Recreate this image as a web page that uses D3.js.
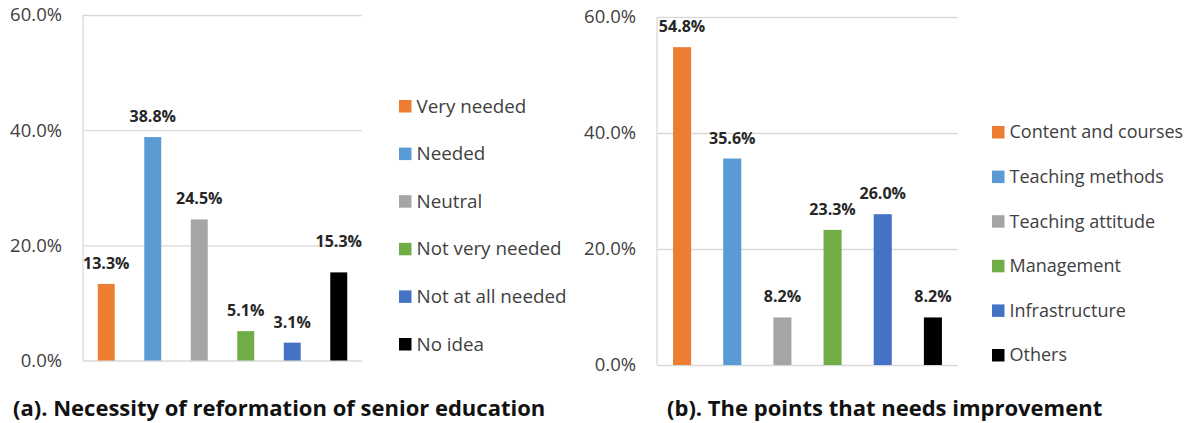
<!DOCTYPE html>
<html><head><meta charset="utf-8">
<script src="https://cdn.jsdelivr.net/npm/d3@7"></script>
<style>
body{margin:0;background:#fff}
svg{display:block;background:#fff}
text{font-family:"Open Sans",sans-serif}
</style>
</head><body>
<svg id="chart" width="1187" height="423"></svg>
<script>
// Survey results, percent of respondents
const necessityCategories = ["Very needed", "Needed", "Neutral", "Not very needed", "Not at all needed", "No idea"];
const necessityValues = [13.3, 38.8, 24.5, 5.1, 3.1, 15.3];

const improvementCategories = ["Content and courses", "Teaching methods", "Teaching attitude", "Management", "Infrastructure", "Others"];
const improvementValues = [54.8, 35.6, 8.2, 23.3, 26.0, 8.2];

const yTicks = [0, 20, 40, 60];
const barColors = ["#ED7D31", "#5B9BD5", "#A5A5A5", "#70AD47", "#4472C4", "#000000"];
const titleA = "(a). Necessity of reformation of senior education";
const titleB = "(b). The points that needs improvement";

const svg = d3.select("#chart");
const fmt = d => d.toFixed(1) + "%";

function drawPanel(cfg) {
  const g = svg.append("g");
  const y = d3.scaleLinear().domain([0, 60]).range([cfg.plot.bottom, cfg.plot.top]);
  const x = d3.scaleBand().domain(cfg.categories)
    .range([cfg.plot.left, cfg.plot.right])
    .paddingInner(cfg.gap).paddingOuter(cfg.gap / 2);

  // horizontal gridlines
  const grid = g.append("g")
    .attr("transform", `translate(${cfg.plot.left},0)`)
    .call(d3.axisLeft(y).tickValues(yTicks).tickSize(-(cfg.plot.right - cfg.plot.left)).tickFormat(""));
  grid.select(".domain").remove();
  grid.selectAll(".tick line").attr("stroke", "#d9d9d9").attr("stroke-width", 1.3);

  // tick labels
  const axis = g.append("g")
    .attr("transform", `translate(${cfg.plot.left},0)`)
    .call(d3.axisLeft(y).tickValues(yTicks).tickSize(0).tickPadding(21).tickFormat(fmt));
  axis.select(".domain").remove();
  axis.selectAll("text").attr("font-size", 18.5).attr("fill", "#404040")
    .style("font-family", '"Open Sans",sans-serif');

  // vertical axis line
  g.append("line")
    .attr("x1", cfg.plot.left).attr("x2", cfg.plot.left)
    .attr("y1", y(60)).attr("y2", y(0))
    .attr("stroke", "#d9d9d9").attr("stroke-width", 1.3);

  // bars
  g.selectAll("rect.bar").data(cfg.values).join("rect")
    .attr("class", "bar")
    .attr("x", (d, i) => x(cfg.categories[i]))
    .attr("width", x.bandwidth())
    .attr("y", d => y(d))
    .attr("height", d => y(0) - y(d))
    .attr("fill", (d, i) => barColors[i]);

  // value labels
  g.selectAll("text.val").data(cfg.values).join("text")
    .attr("class", "val")
    .attr("x", (d, i) => x(cfg.categories[i]) + x.bandwidth() / 2)
    .attr("y", (d, i) => y(d) - 15 - (cfg.lift[cfg.categories[i]] || 0))
    .attr("text-anchor", "middle")
    .attr("font-size", 16).attr("font-weight", 700).attr("fill", "#262626")
    .text(fmt);

  // legend
  const leg = g.append("g");
  cfg.categories.forEach((c, i) => {
    const ly = cfg.legend.y + i * cfg.legend.step;
    leg.append("rect").attr("x", cfg.legend.x).attr("y", ly - 6)
      .attr("width", 12.5).attr("height", 12.5).attr("fill", barColors[i]);
    leg.append("text").attr("x", cfg.legend.x + 17.5).attr("y", ly)
      .attr("dy", "0.35em").attr("font-size", cfg.legend.size).attr("fill", "#404040").text(c);
  });

  // caption
  g.append("text").attr("x", cfg.title.x).attr("y", cfg.title.y)
    .attr("dy", "0.35em").attr("font-size", 22).attr("font-weight", 700)
    .attr("fill", "#111").text(cfg.title.text);
}

drawPanel({
  categories: necessityCategories,
  values: necessityValues,
  plot: {left: 83, right: 362, top: 15, bottom: 360.5},
  gap: 0.635,
  lift: {"No idea": 10},
  legend: {x: 399, y: 106, step: 47.6, size: 18.8},
  title: {x: 13, y: 408, text: titleA}
});

drawPanel({
  categories: improvementCategories,
  values: improvementValues,
  plot: {left: 657, right: 958, top: 17, bottom: 365},
  gap: 0.64,
  lift: {},
  legend: {x: 992, y: 132, step: 44.6, size: 18},
  title: {x: 667, y: 408, text: titleB}
});
</script>
</body></html>
